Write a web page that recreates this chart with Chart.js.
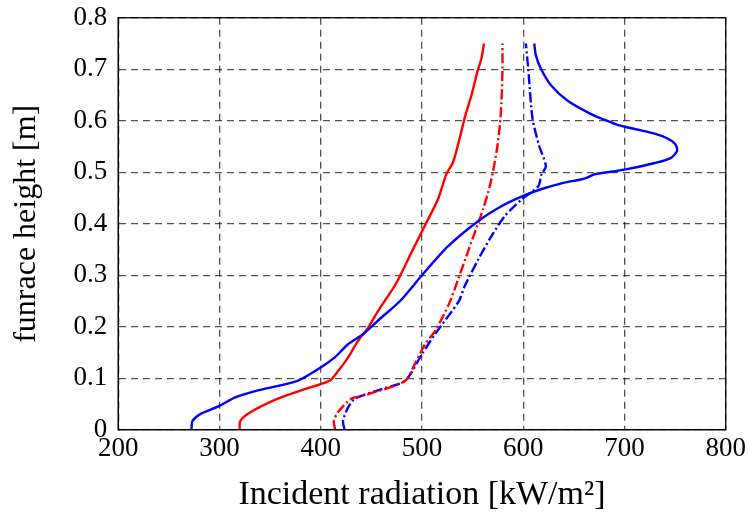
<!DOCTYPE html>
<html><head><meta charset="utf-8">
<script src="https://cdn.jsdelivr.net/npm/chart.js@4/dist/chart.umd.min.js"></script>
<style>html,body{margin:0;padding:0;background:#fff;}#wrap{width:749px;height:515px;}</style>
</head><body><div id="wrap"><canvas id="c" width="749" height="515"></canvas></div>
<script>
const xTicks = [200,300,400,500,600,700,800];
const yTicks = [0,0.1,0.2,0.3,0.4,0.5,0.6,0.7,0.8];

const blueSolidX = [272.4,273.4,280.7,300.7,315.6,337,377,400,413.6,427,442,460,478.4,500,525.6,555.4,578.5,600,617.5,640.6,657,663.7,670.3,700,730,746,752,750,742,729.7,710,693,680,667,643.9,627.4,617.5,612.5,610.9];
const blueSolidY = [0,0.017,0.030,0.047,0.063,0.076,0.095,0.121,0.140,0.166,0.186,0.218,0.250,0.30,0.356,0.405,0.434,0.454,0.467,0.480,0.486,0.490,0.496,0.505,0.518,0.528,0.542,0.555,0.566,0.575,0.584,0.592,0.602,0.613,0.639,0.669,0.701,0.727,0.75];

const redSolidX = [320,320.6,330.6,357,380,408.6,413.6,427,437,447,456.8,474.4,489.3,502.5,515.7,524,530.6,537,542,548.8,554.7,558.7,561.3];
const redSolidY = [0,0.017,0.034,0.06,0.076,0.095,0.105,0.140,0.173,0.199,0.231,0.284,0.343,0.395,0.447,0.496,0.519,0.564,0.604,0.649,0.695,0.721,0.75];

const redDashX = [414.3,413,417,430,446.8,483.4,493,503,513,526.6,535.5,543.8,552,560.3,567,571.2,574.5,576.9,578.5,579.5,579.5];
const redDashY = [0,0.017,0.034,0.06,0.069,0.095,0.128,0.166,0.192,0.244,0.291,0.337,0.382,0.428,0.473,0.512,0.551,0.591,0.636,0.70,0.75];

const blueDashX = [423.6,422,427,433.6,460,483.4,500,513,536.5,542,555.4,568.6,581.8,598.3,614.9,618,622.4,615.8,609.2,605,602.6];
const blueDashY = [0,0.017,0.043,0.06,0.079,0.095,0.147,0.186,0.25,0.278,0.330,0.376,0.415,0.447,0.473,0.496,0.512,0.551,0.604,0.70,0.75];

function pts(xs, ys){ return xs.map((x,i)=>({x:x,y:ys[i]})); }

const boxPlugin = {
  id:'box',
  afterDraw(chart){
    const a = chart.chartArea, ctx = chart.ctx;
    ctx.save(); ctx.strokeStyle='#000'; ctx.lineWidth=1.3; ctx.setLineDash([]);
    ctx.strokeRect(a.left, a.top, a.right-a.left, a.bottom-a.top);
    ctx.restore();
  }
};

const serif = "'Liberation Serif','DejaVu Serif',serif";
const common = {showLine:true, pointRadius:0, borderWidth:2.4, tension:0.25, fill:false};
const gridStyle = {color:'rgba(0,0,0,0.68)', lineWidth:1.3, drawTicks:false};

new Chart(document.getElementById('c'), {
  type:'scatter',
  data:{datasets:[
    Object.assign({label:'blue solid', data:pts(blueSolidX,blueSolidY), borderColor:'#0000ff'}, common),
    Object.assign({label:'red solid', data:pts(redSolidX,redSolidY), borderColor:'#ff0000'}, common),
    Object.assign({label:'red dash-dot', data:pts(redDashX,redDashY), borderColor:'#ff0000', borderDash:[10,3,2,3]}, common),
    Object.assign({label:'blue dash-dot', data:pts(blueDashX,blueDashY), borderColor:'#0000ff', borderDash:[10,3,2,3]}, common)
  ]},
  options:{
    responsive:false, animation:false, devicePixelRatio:1,
    layout:{padding:{left:7,right:4,top:2,bottom:0}},
    plugins:{legend:{display:false}, tooltip:{enabled:false}},
    scales:{
      x:{type:'linear', min:200, max:800,
        afterBuildTicks(ax){ ax.ticks = xTicks.map(v=>({value:v})); },
        grid:gridStyle,
        border:{display:true, color:'#000', dash:[7,5]},
        ticks:{color:'#000', font:{family:serif, size:27}, padding:3, maxRotation:0},
        title:{display:true, text:'Incident radiation [kW/m²]', color:'#000', font:{family:serif, size:34}, padding:{top:6,bottom:0}}
      },
      y:{type:'linear', min:0, max:0.8,
        afterBuildTicks(ax){ ax.ticks = yTicks.map(v=>({value:v})); },
        grid:gridStyle,
        border:{display:true, color:'#000', dash:[7,5]},
        ticks:{color:'#000', font:{family:serif, size:27, lineHeight:0.5}, padding:11, callback:v=> v===0?'0':v.toFixed(1)},
        title:{display:true, text:'funrace height [m]', color:'#000', font:{family:serif, size:32}, padding:{top:0,bottom:17}}
      }
    }
  },
  plugins:[boxPlugin]
});
</script>
</body></html>
